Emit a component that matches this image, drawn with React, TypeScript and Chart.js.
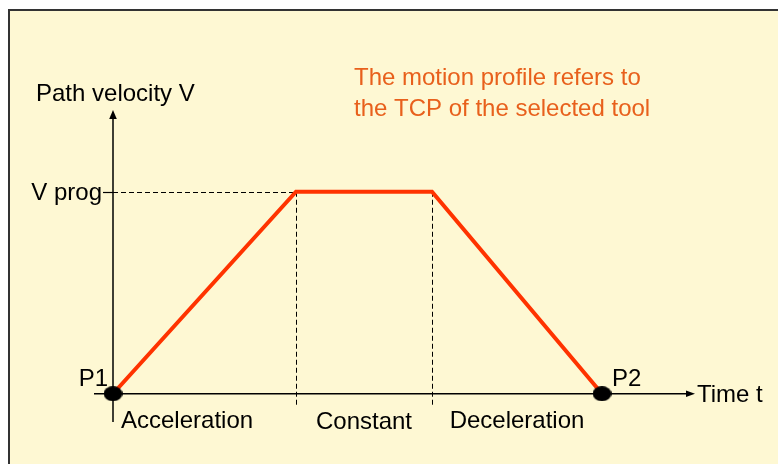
import React, { useEffect, useRef } from "react";
import { Chart, registerables } from "chart.js";

Chart.register(...registerables);

// ---- data ----
const timeValues = [0, 1.83, 3.19, 4.89];
const velocityValues = [0, 1, 1, 0];
const endpointTimes = [0, 4.89];
const endpointVelocities = [0, 0];
const endpointLabels = ["P1", "P2"];
const phaseLabels = ["Acceleration", "Constant", "Deceleration"];
const yTickLabel = "V prog";
const yAxisTitle = "Path velocity V";
const xAxisTitle = "Time t";
const noteLines = ["The motion profile refers to", "the TCP of the selected tool"];

const FONT = '24px "Liberation Sans", Arial, Helvetica, sans-serif';
const BG = "#FEF8D3";

function makeEllipse(w: number, h: number) {
  const c = document.createElement("canvas");
  c.width = w;
  c.height = h;
  const g = c.getContext("2d")!;
  g.fillStyle = "#000";
  g.beginPath();
  g.ellipse(w / 2, h / 2, w / 2, h / 2, 0, 0, Math.PI * 2);
  g.fill();
  return c;
}

const diagramPlugin = {
  id: "diagram",
  beforeDraw(chart: any) {
    const ctx = chart.ctx;
    ctx.save();
    ctx.fillStyle = "#ffffff";
    ctx.fillRect(0, 0, chart.width, chart.height);
    ctx.fillStyle = BG;
    ctx.fillRect(9, 10, chart.width - 9, chart.height - 10);
    ctx.strokeStyle = "#333333";
    ctx.lineWidth = 2;
    ctx.beginPath();
    ctx.moveTo(9, chart.height);
    ctx.lineTo(9, 10);
    ctx.lineTo(chart.width, 10);
    ctx.stroke();
    ctx.restore();
  },
  beforeDatasetsDraw(chart: any) {
    const ctx = chart.ctx;
    const xs = chart.scales.x;
    const ys = chart.scales.y;
    const x0 = xs.getPixelForValue(timeValues[0]);
    const x1 = xs.getPixelForValue(timeValues[1]);
    const x2 = xs.getPixelForValue(timeValues[2]);
    const y0 = ys.getPixelForValue(0);
    const yProg = ys.getPixelForValue(velocityValues[1]);
    const left = xs.getPixelForValue(xs.min);
    const right = xs.getPixelForValue(xs.max);
    const top = ys.getPixelForValue(ys.max);
    const bottom = ys.getPixelForValue(ys.min);
    ctx.save();
    ctx.strokeStyle = "#000";
    ctx.fillStyle = "#000";
    // dashed guides
    ctx.lineWidth = 1;
    ctx.setLineDash([5, 3]);
    ctx.beginPath();
    ctx.moveTo(x0, Math.round(yProg) + 0.5);
    ctx.lineTo(x1, Math.round(yProg) + 0.5);
    ctx.moveTo(Math.round(x1) + 0.5, yProg);
    ctx.lineTo(Math.round(x1) + 0.5, y0 + 11);
    ctx.moveTo(Math.round(x2) + 0.5, yProg);
    ctx.lineTo(Math.round(x2) + 0.5, y0 + 11);
    ctx.stroke();
    ctx.setLineDash([]);
    // tick at V prog
    ctx.lineWidth = 1.2;
    ctx.beginPath();
    ctx.moveTo(x0 - 10, Math.round(yProg) + 0.5);
    ctx.lineTo(x0, Math.round(yProg) + 0.5);
    ctx.stroke();
    // axes
    ctx.lineWidth = 1.5;
    ctx.beginPath();
    ctx.moveTo(x0, bottom);
    ctx.lineTo(x0, top + 6);
    ctx.moveTo(left, y0);
    ctx.lineTo(right - 6, y0);
    ctx.stroke();
    // arrow heads
    ctx.beginPath();
    ctx.moveTo(x0, top - 3);
    ctx.lineTo(x0 - 3.8, top + 6);
    ctx.lineTo(x0 + 3.8, top + 6);
    ctx.closePath();
    ctx.fill();
    ctx.beginPath();
    ctx.moveTo(right + 2, y0);
    ctx.lineTo(right - 7, y0 - 3.2);
    ctx.lineTo(right - 7, y0 + 3.2);
    ctx.closePath();
    ctx.fill();
    ctx.restore();
  },
  afterDatasetsDraw(chart: any) {
    const ctx = chart.ctx;
    const xs = chart.scales.x;
    const ys = chart.scales.y;
    const px = timeValues.map((t) => xs.getPixelForValue(t));
    const y0 = ys.getPixelForValue(0);
    const yProg = ys.getPixelForValue(velocityValues[1]);
    const right = xs.getPixelForValue(xs.max);
    ctx.save();
    ctx.font = FONT;
    ctx.fillStyle = "#000";
    ctx.textBaseline = "alphabetic";
    // y axis title
    ctx.textAlign = "left";
    ctx.fillText(yAxisTitle, 36, 101);
    // V prog
    ctx.textAlign = "right";
    ctx.fillText(yTickLabel, px[0] - 11, yProg + 8);
    // endpoints
    const e0 = xs.getPixelForValue(endpointTimes[0]);
    const e1 = xs.getPixelForValue(endpointTimes[1]);
    ctx.fillText(endpointLabels[0], e0 - 5, y0 - 8);
    ctx.textAlign = "left";
    ctx.fillText(endpointLabels[1], e1 + 10, y0 - 8);
    // x axis title
    ctx.fillText(xAxisTitle, right + 4, y0 + 8);
    // phases
    ctx.textAlign = "left";
    ctx.fillText(phaseLabels[0], px[0] + 8, y0 + 34);
    ctx.textAlign = "center";
    ctx.fillText(phaseLabels[1], (px[1] + px[2]) / 2, y0 + 35);
    ctx.fillText(phaseLabels[2], (px[2] + px[3]) / 2, y0 + 34);
    // note
    ctx.textAlign = "left";
    ctx.fillStyle = "#E8601C";
    ctx.fillText(noteLines[0], 354, 85);
    ctx.fillText(noteLines[1], 354, 116);
    ctx.restore();
  },
};

export default function App() {
  const ref = useRef<HTMLCanvasElement>(null);
  useEffect(() => {
    if (!ref.current) return;
    const dot = makeEllipse(19, 15);
    const chart = new Chart(ref.current, {
      type: "line",
      data: {
        datasets: [
          {
            label: "Endpoints",
            data: endpointTimes.map((t, i) => ({ x: t, y: endpointVelocities[i] })),
            showLine: false,
            pointStyle: dot as any,
            pointRadius: 8,
            order: 0,
          },
          {
            label: "Path velocity",
            data: timeValues.map((t, i) => ({ x: t, y: velocityValues[i] })),
            borderColor: "#FF3300",
            borderWidth: 4,
            pointRadius: 0,
            borderJoinStyle: "miter",
            tension: 0,
            order: 1,
          },
        ],
      },
      options: {
        responsive: false,
        animation: false,
        layout: { padding: { left: 94, top: 113, right: 85, bottom: 42 } },
        scales: {
          x: { type: "linear", min: -0.19, max: 5.8, display: false },
          y: { type: "linear", min: -0.14, max: 1.39, display: false },
        },
        plugins: {
          legend: { display: false },
          tooltip: { enabled: false },
          title: { display: false },
        },
        events: [],
      },
      plugins: [diagramPlugin],
    });
    return () => chart.destroy();
  }, []);
  return (
    <div style={{ position: "absolute", left: 0, top: 0, width: 778, height: 464 }}>
      <canvas ref={ref} width={778} height={464} style={{ display: "block" }} />
    </div>
  );
}
